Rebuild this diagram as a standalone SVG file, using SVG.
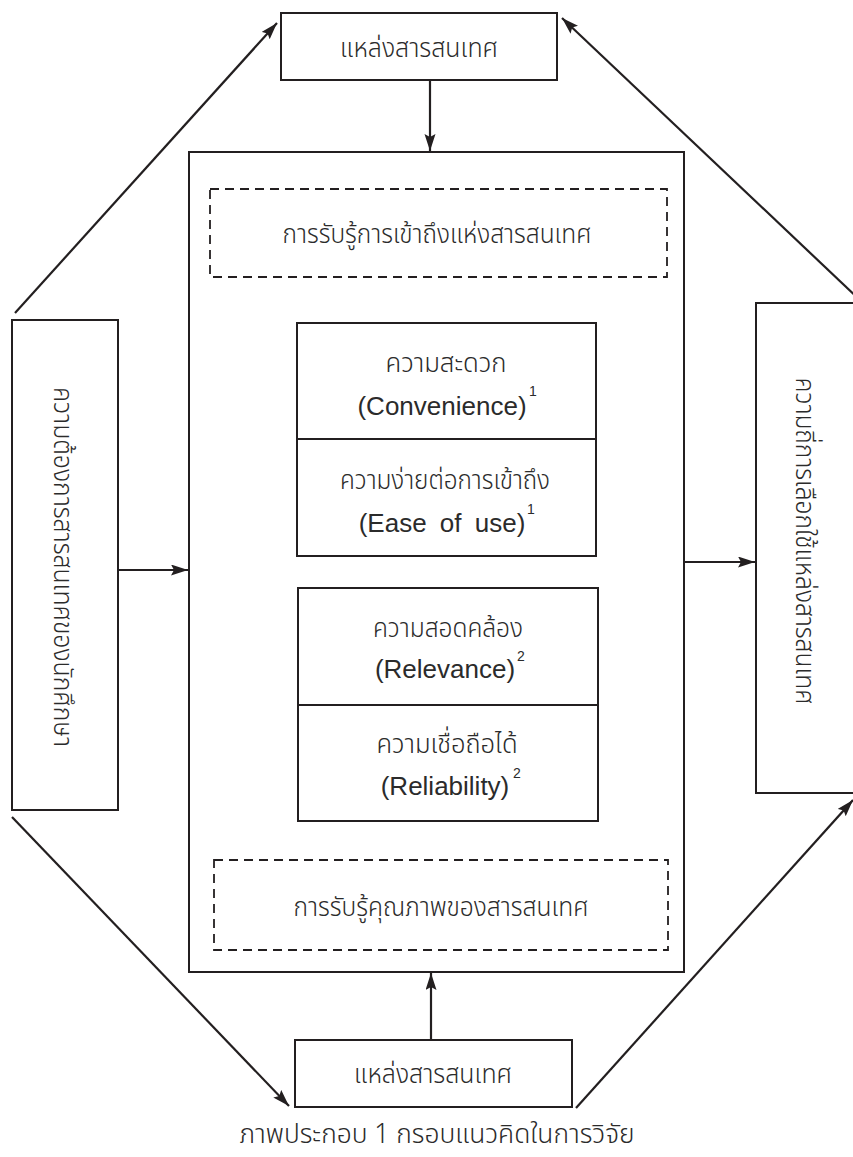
<svg xmlns="http://www.w3.org/2000/svg" width="853" height="1157" viewBox="0 0 853 1157">
<style>
.box{fill:#fff;stroke:#231f20;stroke-width:2}
.dash{fill:none;stroke:#231f20;stroke-width:1.8;stroke-dasharray:9,6}
.con{stroke:#231f20;stroke-width:2.2;fill:none;marker-end:url(#ah)}
.th{font-family:"Noto Sans Thai","Noto Sans Thai Looped","Noto Sans","DejaVu Sans",sans-serif;font-size:27px;font-weight:300;fill:#2b2b2b;text-anchor:middle}
.en{font-family:"Liberation Sans",Arial,sans-serif;font-size:26px;font-weight:normal;fill:#2b2b2b;text-anchor:middle}
.sup{font-family:"Liberation Sans",Arial,sans-serif;font-size:14px;font-weight:normal;fill:#2b2b2b}
</style>
<defs>
<marker id="ah" markerUnits="userSpaceOnUse" markerWidth="18" markerHeight="12" refX="17" refY="5.5" orient="auto">
<path d="M0,0 L17,5.5 L0,11 L3,5.5 z" fill="#231f20"/>
</marker>
</defs>
<rect width="853" height="1157" fill="#fff"/>
<g id="connectors">
<line class="con" x1="430" y1="81" x2="430" y2="151"/>
<line class="con" x1="442" y1="277" x2="442" y2="322"/>
<line class="con" x1="440" y1="860" x2="440" y2="822"/>
<line class="con" x1="431" y1="1040" x2="431" y2="973"/>
<line class="con" x1="118" y1="570" x2="188" y2="570"/>
<line class="con" x1="685" y1="562" x2="755" y2="562"/>
<line class="con" x1="15" y1="313" x2="277" y2="23"/>
<line class="con" x1="862" y1="302" x2="562" y2="18"/>
<line class="con" x1="12" y1="817" x2="289" y2="1106"/>
<line class="con" x1="576" y1="1108" x2="853" y2="800"/>
</g>
<g id="top-source">
<rect class="box" x="281" y="13" width="276" height="67"/>
<text class="th" x="419" y="57" textLength="158" lengthAdjust="spacingAndGlyphs">แหล่งสารสนเทศ</text>
</g>
<g id="main-frame">
<rect class="box" x="189" y="152" width="495" height="820"/>
</g>
<g id="access-perception">
<rect class="dash" x="210" y="189" width="457" height="88"/>
<text class="th" x="437" y="243" textLength="309" lengthAdjust="spacingAndGlyphs">การรับรู้การเข้าถึงแห่งสารสนเทศ</text>
</g>
<g id="access-factors">
<rect class="box" x="297" y="323" width="299" height="233"/>
<line x1="297" y1="439" x2="596" y2="439" stroke="#231f20" stroke-width="2"/>
<text class="th" x="446" y="372" textLength="121" lengthAdjust="spacingAndGlyphs">ความสะดวก</text>
<text class="en" x="442" y="415">(Convenience)</text>
<text class="sup" x="529" y="396">1</text>
<text class="th" x="445" y="489" textLength="210" lengthAdjust="spacingAndGlyphs">ความง่ายต่อการเข้าถึง</text>
<text class="en" x="442" y="532" word-spacing="6">(Ease of use)</text>
<text class="sup" x="527" y="514">1</text>
</g>
<g id="quality-factors">
<rect class="box" x="298" y="588" width="300" height="233"/>
<line x1="298" y1="705" x2="598" y2="705" stroke="#231f20" stroke-width="2"/>
<text class="th" x="448" y="637" textLength="150" lengthAdjust="spacingAndGlyphs">ความสอดคล้อง</text>
<text class="en" x="445" y="678">(Relevance)</text>
<text class="sup" x="517" y="661">2</text>
<text class="th" x="447" y="753" textLength="141" lengthAdjust="spacingAndGlyphs">ความเชื่อถือได้</text>
<text class="en" x="445" y="795">(Reliability)</text>
<text class="sup" x="513" y="778">2</text>
</g>
<g id="quality-perception">
<rect class="dash" x="214" y="860" width="454" height="90"/>
<text class="th" x="441" y="916" textLength="295" lengthAdjust="spacingAndGlyphs">การรับรู้คุณภาพของสารสนเทศ</text>
</g>
<g id="bottom-source">
<rect class="box" x="295" y="1040" width="277" height="67"/>
<text class="th" x="433" y="1083" textLength="158" lengthAdjust="spacingAndGlyphs">แหล่งสารสนเทศ</text>
</g>
<g id="student-needs">
<rect class="box" x="12" y="320" width="106" height="490"/>
<text class="th" transform="translate(63,567) rotate(90)" dy="0.35em" textLength="360" lengthAdjust="spacingAndGlyphs">ความต้องการสารสนเทศของนักศึกษา</text>
</g>
<g id="usage-frequency">
<rect class="box" x="756" y="303" width="110" height="490"/>
<text class="th" transform="translate(805,541) rotate(90)" dy="0.35em" textLength="327" lengthAdjust="spacingAndGlyphs">ความถี่การเลือกใช้แหล่งสารสนเทศ</text>
</g>
<g id="caption">
<text class="th" x="437" y="1143" textLength="395" lengthAdjust="spacingAndGlyphs">ภาพประกอบ 1 กรอบแนวคิดในการวิจัย</text>
</g>
</svg>
